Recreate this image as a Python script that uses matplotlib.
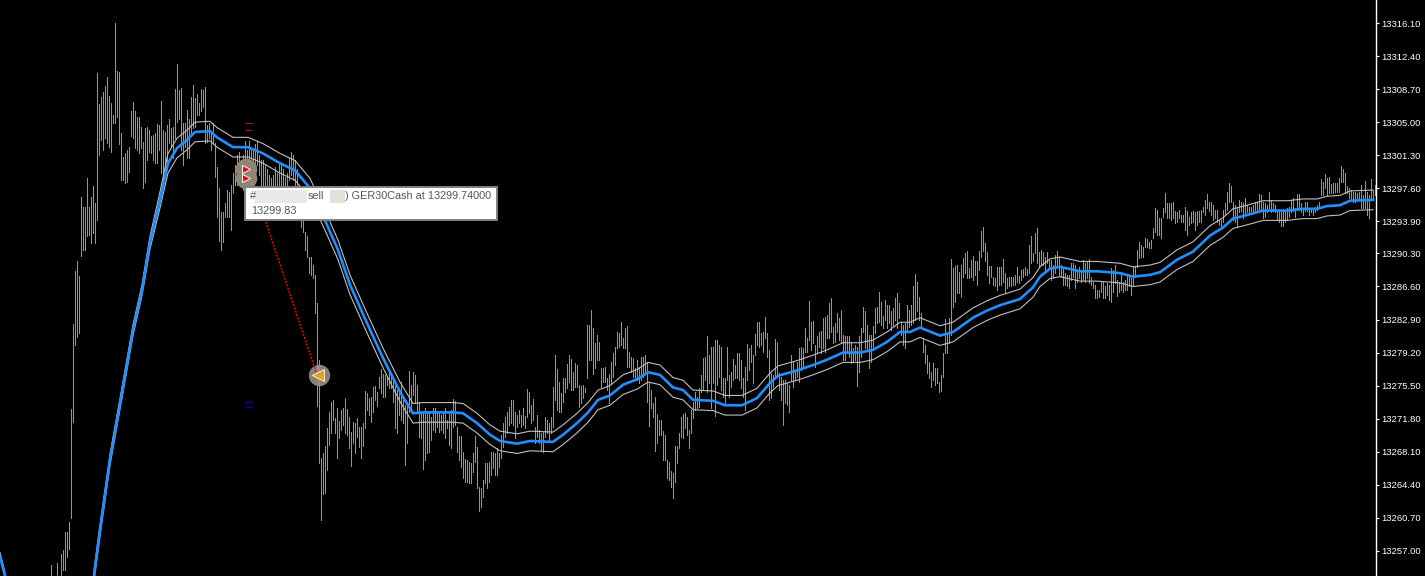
import numpy as np
import matplotlib
matplotlib.use("Agg")
import matplotlib.pyplot as plt
from matplotlib.patches import Rectangle

BASE = 13250.0
FIRST_BAR = 25

# bar highs / lows, price minus BASE
highs = [
    5.4,4.0,4.0,5.6,4.0,6.6,7.1,9.1,9.1,10.2,
    22.9,32.4,38.3,39.5,37.8,46.6,45.5,45.5,48.7,45.5,
    46.6,47.9,45.9,60.5,57.0,57.8,58.4,59.1,60.1,57.9,
    57.2,55.8,66.1,60.7,60.6,53.8,51.1,51.6,51.9,52.2,
    56.3,57.3,56.3,55.6,55.6,54.5,52.8,54.4,54.5,54.1,
    53.4,53.6,53.8,54.8,54.7,57.4,54.1,53.9,54.7,55.3,
    54.4,54.5,58.7,61.5,58.6,58.8,54.9,54.9,56.4,55.3,
    57.8,59.2,57.7,58.2,57.2,58.7,58.6,58.9,54.7,54.9,
    53.9,54.9,52.7,50.0,47.6,44.9,44.9,45.9,47.4,47.2,
    48.0,49.3,50.2,51.3,51.7,50.8,51.3,52.9,51.9,52.9,
    52.1,51.9,52.5,52.9,51.3,50.8,50.8,50.2,49.7,49.1,
    48.8,49.1,50.0,49.3,50.4,50.4,49.7,48.9,49.3,51.0,
    51.7,51.3,50.8,49.7,47.1,44.9,44.1,42.7,42.2,39.9,
    39.9,39.0,37.9,34.8,28.4,17.4,18.0,18.7,20.8,22.6,
    23.7,23.9,21.9,23.0,21.5,22.8,23.0,24.1,22.9,22.0,
    20.3,21.4,21.3,21.9,20.9,20.9,21.3,24.9,24.7,24.1,
    24.2,25.4,25.5,24.8,26.5,27.4,26.8,26.7,26.5,27.0,
    26.7,26.1,26.1,25.0,24.7,25.9,24.1,23.3,23.6,27.1,
    25.6,27.0,26.7,25.6,23.7,22.6,22.4,23.0,22.4,22.4,
    22.0,23.0,23.0,22.6,22.6,22.2,22.4,23.0,21.7,22.4,
    22.8,24.0,23.8,20.9,19.9,19.9,18.1,17.3,17.2,17.0,
    16.8,18.0,19.9,18.6,14.2,14.0,14.9,16.8,16.8,17.0,
    18.1,18.1,18.0,18.5,18.0,20.0,21.3,22.0,22.6,23.1,
    23.9,23.9,22.6,22.2,22.8,22.2,23.0,22.1,25.1,24.8,
    23.3,24.0,20.9,22.2,20.5,20.2,20.3,22.0,21.7,21.3,
    22.0,25.4,28.9,27.4,25.9,24.7,26.4,26.4,27.9,28.9,
    28.5,27.0,28.0,27.8,25.6,25.5,25.6,25.2,32.3,32.3,
    34.0,31.9,30.3,31.2,30.4,27.5,27.5,27.6,26.4,26.8,
    28.1,29.1,29.8,31.5,31.4,32.6,30.8,32.0,32.2,29.3,
    28.7,28.6,27.5,28.4,27.6,28.7,28.7,28.9,28.0,25.9,
    25.0,23.6,24.2,22.3,21.7,21.7,20.4,20.0,17.2,17.0,
    15.9,15.7,18.7,18.7,20.2,22.0,22.3,22.4,22.0,20.5,
    22.8,23.7,24.8,24.2,25.2,26.7,28.6,28.7,31.0,28.9,
    29.8,29.8,30.6,30.6,30.1,29.8,26.4,26.4,29.8,26.7,
    27.0,28.5,27.8,29.1,29.1,28.4,26.4,27.6,30.2,29.7,
    30.1,28.9,31.3,32.6,32.6,31.4,31.5,33.2,31.4,29.5,
    26.9,26.7,30.7,30.4,26.9,26.5,26.1,26.1,25.8,25.6,
    28.9,28.1,27.2,28.1,29.7,29.8,29.7,31.9,30.8,35.0,
    32.6,32.7,30.1,31.1,31.5,31.6,33.1,33.2,33.4,34.8,
    35.3,32.1,32.5,33.6,33.1,34.0,31.2,31.1,31.1,31.0,
    30.4,29.7,30.1,29.8,31.0,32.0,34.3,33.8,32.3,31.2,
    31.2,32.2,34.2,34.3,36.0,34.9,33.3,35.1,34.5,34.5,
    33.8,34.2,35.3,35.9,34.8,32.6,32.3,32.5,34.5,34.0,
    34.5,36.7,38.0,37.1,35.4,33.6,30.8,30.1,28.9,28.1,
    27.0,28.0,27.5,27.5,25.9,26.7,29.2,33.0,31.4,33.1,
    39.7,38.7,38.9,39.0,38.2,39.0,39.8,40.4,40.6,38.7,
    39.6,40.0,39.4,39.4,40.6,42.8,43.3,41.5,40.5,38.9,
    38.9,37.7,37.6,38.8,38.8,38.8,39.7,38.1,37.6,37.7,
    37.7,37.7,37.9,38.8,37.8,38.5,38.6,38.8,38.6,41.3,
    42.3,40.4,42.6,43.1,40.5,40.7,40.5,39.9,40.5,39.6,
    39.6,39.0,40.1,40.6,39.9,39.0,38.7,38.1,37.9,37.9,
    39.2,39.2,39.0,38.2,38.8,38.2,39.6,39.2,39.4,39.7,
    37.7,37.1,36.8,36.2,36.2,37.1,37.1,36.6,37.0,36.8,
    38.7,38.5,39.0,37.3,37.1,38.2,37.1,37.3,37.9,37.8,
    37.6,38.8,38.8,40.7,41.6,41.3,41.0,42.0,41.9,41.6,
    41.8,43.2,45.4,45.2,44.3,44.3,45.4,47.1,46.0,46.0,
    46.0,46.1,45.0,44.9,45.2,44.6,44.6,45.5,45.0,44.4,
    44.9,45.0,44.9,45.0,45.0,45.2,45.5,46.3,47.0,46.1,
    46.1,45.7,45.2,45.2,44.1,44.1,45.2,46.0,47.2,48.2,
    47.8,46.1,45.7,45.4,46.3,46.1,46.0,46.5,45.7,45.5,
    45.5,45.7,46.1,46.1,47.0,46.9,46.1,46.0,45.7,47.2,
    46.3,46.0,45.7,45.2,45.0,44.9,45.0,44.9,45.4,45.5,
    46.3,46.5,45.4,47.0,47.0,46.0,45.4,46.1,46.1,45.4,
    45.4,45.4,45.5,45.7,46.1,48.6,48.3,49.2,48.8,48.9,
    48.1,48.2,48.2,48.2,48.8,50.1,49.8,49.3,47.8,47.6,
    47.4,47.2,47.2,47.1,47.2,48.0,46.9,48.4,47.2,46.9,48.6,47.4,48.0,
]
lows = [
    3.5,3.0,3.0,3.5,3.0,4.0,4.8,4.8,6.3,7.2,
    10.7,21.4,30.0,30.9,31.4,40.0,40.7,40.7,42.2,42.4,
    41.5,42.6,41.5,44.0,51.3,53.0,51.9,53.2,52.7,52.2,
    51.7,54.9,54.9,55.6,52.5,48.5,48.5,48.2,48.3,49.4,
    53.4,53.2,52.1,51.9,51.6,52.1,47.6,48.3,50.8,51.7,
    51.6,50.8,50.4,50.4,51.9,49.3,48.5,49.3,50.4,52.7,
    52.2,51.0,53.2,55.0,55.3,51.9,50.2,52.2,51.0,51.0,
    53.8,54.4,54.5,55.8,55.8,56.2,56.7,52.7,52.8,53.2,
    51.9,52.7,48.9,44.4,41.7,40.7,41.6,44.4,44.4,44.4,
    42.9,47.1,48.0,48.0,48.5,48.0,47.4,48.5,48.8,50.2,
    49.4,50.2,50.2,50.2,49.1,46.9,47.6,47.6,47.4,46.9,
    46.9,47.4,47.8,47.4,48.0,48.0,47.4,47.4,47.4,48.5,
    49.1,48.5,48.0,46.9,44.9,43.3,42.7,40.7,39.9,38.1,
    37.9,37.6,33.6,23.2,16.8,10.5,13.4,13.5,16.1,18.9,
    20.2,21.7,20.2,17.4,19.6,20.5,21.1,20.2,20.0,18.5,
    16.5,19.1,18.0,19.8,18.6,17.4,18.7,20.8,22.8,22.2,
    21.4,22.6,23.9,23.2,25.2,24.7,24.2,24.2,25.6,25.2,
    25.2,23.7,20.8,20.2,22.2,21.7,21.3,16.6,19.1,22.6,
    22.8,24.5,23.6,22.6,19.8,19.6,16.2,17.2,18.0,18.1,
    19.4,20.5,20.3,20.9,20.3,20.5,20.2,19.6,20.8,18.9,
    18.5,20.9,21.1,18.1,17.2,16.4,15.2,14.7,14.7,14.6,
    14.6,15.8,17.0,14.0,11.5,11.9,13.0,14.6,14.0,14.7,
    15.5,16.3,15.5,15.5,16.4,17.4,18.6,19.8,20.2,21.1,
    21.3,21.1,19.6,20.9,21.3,20.9,21.1,20.8,22.0,22.4,
    21.3,21.7,19.1,19.8,19.1,18.3,18.1,19.8,20.2,19.4,
    20.2,20.9,23.9,22.8,22.6,22.6,23.7,24.8,25.2,25.9,
    25.0,25.0,25.4,25.4,23.1,23.6,24.1,24.8,26.4,28.4,
    28.4,26.8,27.5,28.4,28.4,25.4,25.9,25.9,25.0,23.6,
    25.8,26.5,27.8,29.7,29.8,30.1,29.7,29.7,27.6,27.6,
    27.0,26.5,26.1,26.1,25.8,26.1,26.5,26.9,23.7,21.0,
    23.0,22.0,18.2,19.1,20.0,20.0,17.2,17.2,15.1,14.9,
    14.2,12.9,14.7,16.8,18.5,19.8,19.6,20.8,20.0,18.5,
    20.2,21.9,22.8,23.0,23.1,24.8,25.0,26.1,24.8,25.8,
    23.0,25.8,22.1,25.6,26.5,25.0,24.2,23.6,26.1,24.2,
    25.4,26.1,26.4,26.4,26.1,25.2,24.2,22.8,26.1,27.2,
    28.1,25.8,28.9,30.1,29.8,30.1,29.3,30.8,28.7,23.9,
    24.1,25.4,26.5,26.5,25.0,23.9,21.1,23.6,23.3,22.6,
    26.1,25.4,26.1,26.5,25.9,27.2,27.6,29.3,29.3,30.6,
    29.5,30.3,27.6,29.3,29.8,29.2,29.7,29.3,30.8,30.8,
    31.5,30.3,30.4,31.5,30.6,30.4,28.4,28.4,29.2,28.7,
    28.0,28.1,28.4,25.5,27.0,28.7,31.5,29.7,29.5,27.5,
    28.1,29.5,31.4,32.5,32.6,32.3,32.0,32.9,32.0,32.5,
    31.7,32.3,32.9,32.0,33.1,31.2,30.1,29.7,31.5,32.1,
    32.3,32.5,32.9,33.8,32.9,32.0,29.3,28.0,26.9,26.4,
    25.4,26.1,25.6,25.8,24.8,24.9,26.5,29.2,29.2,30.3,
    31.2,34.3,34.9,35.9,35.9,35.4,37.7,38.1,37.6,37.6,
    37.7,37.3,37.9,36.8,38.5,39.9,40.6,39.4,37.9,37.0,
    37.7,36.8,36.6,36.2,36.8,36.8,37.1,35.9,36.4,36.6,
    36.7,36.8,36.8,37.1,37.0,37.3,37.7,37.9,37.9,38.1,
    39.2,39.4,40.4,39.2,38.8,39.0,39.0,38.5,39.2,38.8,
    37.3,37.6,38.1,39.0,37.9,37.7,36.8,36.8,36.6,36.4,
    37.3,37.7,36.4,37.1,37.6,37.1,37.3,37.1,37.6,37.0,
    36.8,36.4,35.3,35.3,35.4,36.0,35.3,35.3,35.7,35.1,
    34.9,36.0,37.0,35.5,36.0,36.2,36.0,36.2,36.2,36.6,
    35.7,36.6,37.7,38.8,39.8,39.9,39.9,41.0,41.0,40.9,
    40.9,42.0,42.7,42.4,42.4,42.0,44.4,44.9,44.3,44.3,
    44.1,44.3,43.7,43.8,44.3,43.8,43.8,42.9,42.4,43.5,
    43.7,43.8,42.9,43.5,43.8,43.8,44.9,44.6,45.4,45.0,
    44.6,44.1,44.3,43.8,43.5,43.3,43.8,44.6,45.2,46.1,
    46.1,44.1,43.8,43.3,44.9,45.0,44.3,44.6,44.9,44.9,
    45.0,45.0,45.0,44.9,45.2,45.2,44.3,44.4,44.9,45.2,
    44.9,45.0,44.9,44.1,43.8,43.4,43.4,43.8,44.1,44.4,
    44.9,45.0,44.4,45.2,45.2,44.9,44.6,45.0,45.0,44.6,
    44.9,44.6,44.9,45.2,45.4,46.9,46.9,47.6,46.9,47.1,
    47.1,47.1,47.2,47.2,47.2,48.3,48.3,47.1,47.1,46.5,
    46.3,46.1,46.1,46.3,46.3,45.4,45.4,45.4,44.6,44.3,46.3,46.3,46.9,
]

# moving average and its envelope, read at these bar numbers
ma_bars = [47,50,55,61,66.5,71,75,80,84,88.5,93.5,97.5,105,108.5,116.5,124,131.5,140,147.5,
           155,162.5,169,175,183.5,191.5,200,206.5,211.5,226.5,231.5,238.5,245,250,258.5,265,
           276.5,281.5,288.5,294,299,305,311.5,318.5,324,330,336.5,341.5,346.5,356.5,362.5,371,
           378.5,385,389,398.5,406.5,413.5,421.5,430,436.5,443.5,450,455,460,470,476.5,486.5,
           493.5,500,510,516.5,520,525,530,540,548.5,560,566.5,575,580,588.5,596.5,605,611.5,
           616.5,623.5,631.5,643.5,651.5,658.5,663.5,670,675,686.5]
ma = [4.2,9.3,17.2,24.7,31.7,36.2,41.5,46.3,50.4,52.1,53.0,53.9,54.0,53.3,52.2,52.2,51.5,50.4,49.6,
      47.6,44.0,40.7,36.8,32.5,28.6,24.8,22.4,22.5,22.5,22.4,21.3,20.0,19.3,19.0,19.3,
      19.2,20.0,21.3,22.5,23.9,24.4,25.6,26.2,27.0,26.7,25.3,25.0,23.9,23.8,23.3,23.3,
      24.1,25.8,26.6,27.2,27.8,28.4,29.2,29.2,29.5,30.4,31.5,31.5,32.0,31.1,31.5,33.1,
      33.9,34.5,35.2,36.5,37.7,38.6,38.8,38.3,38.3,38.1,37.7,37.9,38.2,39.6,40.5,42.3,43.2,
      44.2,44.6,45.1,45.1,45.3,45.3,45.6,45.7,46.2,46.3]
ma_upper = [4.8,9.9,17.8,25.3,32.3,36.8,42.2,47.2,51.5,53.2,54.1,55.0,55.1,54.4,53.3,53.3,52.6,51.5,50.7,
            48.7,45.1,41.8,37.9,33.6,29.7,25.9,23.5,23.6,23.6,23.5,22.4,21.1,20.4,20.1,20.4,
            20.3,21.1,22.4,23.6,25.0,25.5,26.7,27.3,28.1,27.8,26.4,26.1,25.0,24.9,24.4,24.4,
            25.2,26.9,27.7,28.3,28.9,29.5,30.3,30.3,30.6,31.5,32.6,32.6,33.1,32.2,32.6,34.2,
            35.0,35.6,36.3,37.6,38.8,39.7,39.9,39.4,39.4,39.2,38.8,39.0,39.3,40.7,41.6,43.4,44.3,
            45.3,45.7,46.2,46.2,46.4,46.4,46.7,46.8,47.3,47.4]
ma_lower = [3.6,8.7,16.6,24.1,31.1,35.6,40.8,45.4,49.3,51.0,51.9,52.8,52.9,52.2,51.1,51.1,50.4,49.3,48.5,
            46.5,42.9,39.6,35.7,31.4,27.5,23.7,21.3,21.4,21.4,21.3,20.2,18.9,18.2,17.9,18.2,
            18.1,18.9,20.2,21.4,22.8,23.3,24.5,25.1,25.9,25.6,24.2,23.9,22.8,22.7,22.2,22.2,
            23.0,24.7,25.5,26.1,26.7,27.3,28.1,28.1,28.4,29.3,30.4,30.4,30.9,30.0,30.4,32.0,
            32.8,33.4,34.1,35.4,36.6,37.5,37.7,37.2,37.2,37.0,36.6,36.8,37.1,38.5,39.4,41.2,42.1,
            43.1,43.5,44.0,44.0,44.2,44.2,44.5,44.6,45.1,45.2]

# the last bit of the previous swing at the far left
left_bars = [0, 2.5]
left_ma = [6.4, 4.2]
left_upper = [6.8, 4.6]

tick_values = [13316.10,13312.40,13308.70,13305.00,13301.30,13297.60,13293.90,13290.30,
               13286.60,13282.90,13279.20,13275.50,13271.80,13268.10,13264.40,13260.70,13257.00]

W, H = 1425, 576
fig = plt.figure(figsize=(W / 100, H / 100), dpi=100, facecolor="black")
ax = fig.add_axes([0, 0, 1376 / W, 1], facecolor="black")
ax.set_xlim(0, 688)
ax.set_ylim(13254.18, 13318.68)

# a quarter of a bar puts every bar on its own pixel column
x = FIRST_BAR + np.arange(len(highs)) + 0.25
ax.vlines(x, BASE + np.array(lows), BASE + np.array(highs), color="#00ff00", lw=0.72,
          antialiased=False, zorder=2)

# envelope and average
mb = np.array(ma_bars)
ax.plot(mb, BASE + np.array(ma_upper), color="#c0c0c0", lw=0.8, zorder=3)
ax.plot(mb, BASE + np.array(ma_lower), color="#c0c0c0", lw=0.8, zorder=3)
ax.plot(mb, BASE + np.array(ma), color="#1e90ff", lw=1.9, zorder=4)
ax.plot(left_bars, BASE + np.array(left_upper), color="#c0c0c0", lw=0.8, zorder=3)
ax.plot(left_bars, BASE + np.array(left_ma), color="#1e90ff", lw=1.9, zorder=4)

# trade: stop / target ticks, entry and exit
ax.hlines([13304.9, 13304.1], 122.5, 126, color="#d01010", lw=0.8, zorder=5)
ax.hlines([13273.7, 13273.1], 122.5, 126, color="#0000dd", lw=0.8, zorder=5)
ax.plot([124, 158.5], [13299.74, 13276.7], color="red", lw=1.0, ls=(0, (1.5, 1)), zorder=5)
ax.plot([123, 123], [13299.74, 13298.75], "o", ms=14.5, mfc="#8f8476", mec="#8f8476", zorder=6)
ax.plot([159.5], [13276.7], "o", ms=14.5, mfc="#8f7d6e", mec="#7f8c9c", mew=0.8, zorder=1.5)
ax.plot([123, 123], [13299.74, 13298.75], ">", ms=6, mfc="red", mec="white", mew=0.7, zorder=7)
ax.plot([159], [13276.7], "<", ms=8, mfc="#e0a020", mec="white", mew=0.6, zorder=7)

# right price scale
for s in ["left", "top", "bottom"]:
    ax.spines[s].set_visible(False)
ax.spines["right"].set_color("white")
ax.spines["right"].set_linewidth(1.0)
ax.set_xticks([])
ax.yaxis.tick_right()
ax.set_yticks(tick_values)
ax.set_yticklabels([f"{v:.2f}" for v in tick_values], family="Liberation Sans", fontsize=6.8,
                   color="white")
ax.tick_params(axis="y", colors="white", length=2.5, width=0.8, pad=1.5)


def box(x0, y0, x1, y1, **kw):
    fig.add_artist(Rectangle((x0 / W, 1 - y1 / H), (x1 - x0) / W, (y1 - y0) / H,
                             transform=fig.transFigure, **kw))


# tooltip over the chart
box(245, 187, 497, 220, facecolor="white", edgecolor="#808080", lw=1.4, zorder=20)
box(255, 190, 307, 203, facecolor="#e9e9e9", edgecolor="none", zorder=21)
box(330, 190, 345, 203, facecolor="#e4e0d8", edgecolor="none", zorder=21)
tip = dict(family="Liberation Sans", fontsize=7.8, color="#555555", va="center", zorder=22)
fig.text(250 / W, 1 - 196 / H, "#", **tip)
fig.text(308 / W, 1 - 196 / H, "sell", **tip)
fig.text(345 / W, 1 - 196 / H, ") GER30Cash at 13299.74000", **tip)
fig.text(251 / W, 1 - 211 / H, "13299.83", **tip)

fig.savefig("out.png", dpi=100, facecolor="black")
